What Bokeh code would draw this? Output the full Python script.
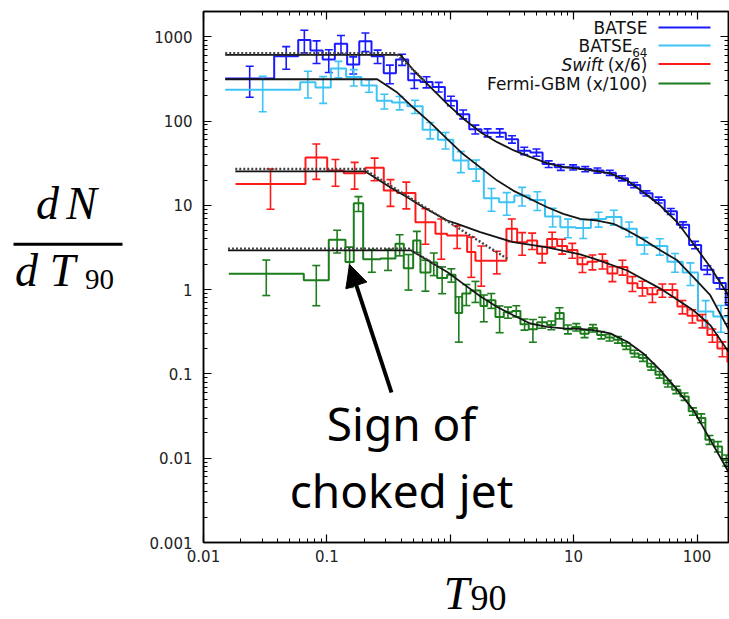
import math
from bokeh.plotting import figure
from bokeh.layouts import row, column
from bokeh.models import (FixedTicker, CustomJSTickFormatter, LogAxis, Label,
                          Arrow, NormalHead, Range1d)
from bokeh.core.properties import value
from bokeh.embed import file_html
from bokeh.resources import INLINE

# ---------------------------------------------------------------------------
# T90 distributions: bin edges (s), dN/dT90 per bin, relative 1-sigma errors
# ---------------------------------------------------------------------------
batse_edges = [0.0150, 0.0374, 0.0586, 0.0736, 0.0925, 0.116, 0.146, 0.183,
               0.230, 0.289, 0.363, 0.456, 0.573, 0.719, 0.904, 1.135, 1.426,
               1.79, 2.25, 2.82, 3.55, 4.46, 5.60, 7.03, 8.83, 11.1, 13.9,
               17.5, 22.0, 27.6, 34.7, 43.6, 54.7, 68.7, 86.3, 108, 136, 171,
               215]
batse_vals = [320, 590, 920, 690, 540, 830, 470, 890, 590, 370, 540, 305,
              292, 255, 175, 121, 80, 73, 73, 61, 44.5, 42.5, 31, 28.3, 28.3,
              27, 26, 24.4, 21, 17.5, 13.9, 11.6, 8.5, 5.9, 3.4, 1.72, 1.2,
              0.66]
batse_rel = [0.40, 0.30, 0.30, 0.30, 0.30, 0.25, 0.23, 0.25, 0.18, 0.25,
             0.15, 0.20, 0.15, 0.13, 0.13, 0.12, 0.12, 0.11, 0.11, 0.10,
             0.10, 0.10, 0.09, 0.08, 0.07, 0.07, 0.07, 0.07, 0.07, 0.07,
             0.07, 0.08, 0.08, 0.08, 0.10, 0.12, 0.15, 0.20]

batse64_edges = [0.0150, 0.0608, 0.0809, 0.1076, 0.1432, 0.1905, 0.2535,
                 0.3373, 0.4487, 0.597, 0.794, 1.057, 1.406, 1.871, 2.489,
                 3.311, 4.406, 5.861, 7.798, 10.38, 13.8, 18.37, 24.43, 32.5,
                 43.25, 57.5, 76.6, 101.9, 135.5, 180.3, 239.9]
batse64_vals = [235, 290, 250, 420, 335, 265, 174, 166, 150, 79, 60, 34, 27,
                12.2, 10.9, 13.1, 11.6, 7.4, 5.5, 5.4, 6.9, 7.3, 5.3, 3.4,
                3.3, 2.15, 1.6, 0.55, 0.48, 0.36]
batse64_rel = [0.45, 0.35, 0.35, 0.22, 0.22, 0.17, 0.20, 0.18, 0.18, 0.22,
               0.22, 0.28, 0.28, 0.30, 0.30, 0.25, 0.25, 0.25, 0.25, 0.25,
               0.20, 0.20, 0.20, 0.22, 0.22, 0.25, 0.30, 0.35, 0.35, 0.40]

swift_edges = [0.01817, 0.0671, 0.1006, 0.1371, 0.2055, 0.2892, 0.3713,
               0.5224, 0.7586, 0.9438, 1.371, 1.60, 1.991, 2.854, 3.485,
               4.201, 5.06, 6.10, 7.35, 8.86, 10.74, 12.94, 15.59, 18.79,
               22.64, 27.29, 32.89, 39.63, 47.76, 57.56, 69.36, 83.6, 100.7,
               121.4, 146.3, 176.3, 212.5]
swift_vals = [18, 37, 26, 24, 28, 15, 14, 6.3, 4.6, 4.4, 2.8, 2.2, 2.2, 5.3,
              3.66, 3.84, 2.67, 4.0, 3.3, 2.95, 2.0, 2.15, 2.2, 1.56, 1.86,
              1.19, 1.05, 0.88, 0.99, 0.99, 0.63, 0.49, 0.43, 0.29, 0.20,
              0.14]
swift_rel = [0.50, 0.45, 0.35, 0.35, 0.30, 0.35, 0.35, 0.45, 0.50, 0.30,
             0.50, 0.50, 0.30, 0.30, 0.30, 0.22, 0.22, 0.20, 0.20, 0.20,
             0.20, 0.20, 0.20, 0.20, 0.20, 0.20, 0.20, 0.20, 0.18, 0.18,
             0.18, 0.18, 0.18, 0.18, 0.20, 0.20]

fermi_edges = [0.01603, 0.06499, 0.1036, 0.1415, 0.1652, 0.1969, 0.2719,
               0.3597, 0.4201, 0.5005, 0.5734, 0.691, 0.7831, 0.9438, 1.102,
               1.249, 1.458, 1.757, 1.991, 2.325, 2.714, 3.175, 3.706, 4.326,
               5.06, 6.10, 7.12, 8.31, 9.72, 11.35, 13.26, 15.50, 18.10,
               21.13, 24.72, 28.86, 33.70, 39.41, 46.02, 53.74, 62.84, 73.37,
               85.64, 100.2, 116.9, 136.6, 159.7, 186.6]
fermi_vals = [1.55, 1.29, 3.9, 2.13, 10.6, 2.3, 2.35, 3.5, 1.8, 3.84, 1.6,
              2.1, 1.38, 1.5, 0.53, 0.9, 0.98, 0.64, 0.75, 0.475, 0.54, 0.56,
              0.39, 0.34, 0.41, 0.38, 0.53, 0.34, 0.36, 0.30, 0.35, 0.29,
              0.27, 0.255, 0.215, 0.175, 0.155, 0.122, 0.098, 0.077, 0.065,
              0.054, 0.036, 0.030, 0.0166, 0.0138, 0.0095]
fermi_rel = [0.45, 0.50, 0.30, 0.50, 0.20, 0.30, 0.28, 0.28, 0.45, 0.28,
             0.40, 0.30, 0.35, 0.18, 0.55, 0.28, 0.28, 0.35, 0.20, 0.35,
             0.15, 0.15, 0.15, 0.30, 0.15, 0.12, 0.15, 0.12, 0.10, 0.10,
             0.10, 0.10, 0.09, 0.09, 0.09, 0.09, 0.09, 0.09, 0.09, 0.09,
             0.10, 0.10, 0.10, 0.12, 0.12, 0.14, 0.15]

# model curves (solid) and plateau + power-law curves (dotted)
batse_fit_t = [0.015, 0.395, 0.506, 0.691, 0.944, 1.286, 1.757, 2.40, 3.28,
               4.49, 6.10, 8.33, 11.35, 14.4, 19.8, 27.2, 36.7, 50.4, 69.2,
               93.3, 128, 176, 182]
batse_fit_n = [610, 610, 399, 253, 160, 106, 74, 56.3, 44.9, 37.4, 31.8,
               28.5, 27.2, 25.8, 24.0, 19.7, 14.3, 9.96, 6.31, 3.51, 1.86,
               0.9, 0.8]
batse64_fit_t = [0.015, 0.256, 0.372, 0.501, 0.689, 0.946, 1.27, 1.75, 2.40,
                 3.24, 4.45, 6.11, 8.24, 11.3, 15.6, 21.0, 27.2, 36.7, 50.4,
                 69.2, 93.3, 128, 176, 182]
batse64_fit_n = [314, 314, 218, 145, 96.2, 61.2, 40.7, 28.3, 19.7, 15.0,
                 11.9, 9.5, 7.94, 6.93, 6.62, 6.05, 5.05, 3.95, 2.93, 2.23,
                 1.41, 0.86, 0.362, 0.33]
swift_fit_t = [0.0181, 0.205, 0.326, 0.448, 0.604, 0.946, 1.14, 1.75, 3.24,
               6.11, 11.3, 14.4, 27.2, 50.4, 93.3, 128, 183]
swift_fit_n = [25.3, 25.3, 16.4, 12.5, 9.5, 6.62, 6.05, 4.81, 3.66, 3.17,
               2.62, 2.35, 1.69, 1.03, 0.57, 0.38, 0.177]
fermi_fit_t = [0.0158, 0.483, 0.689, 0.946, 1.27, 1.75, 2.40, 3.24, 4.45,
               6.11, 8.24, 11.3, 14.4, 19.8, 27.2, 36.7, 50.4, 69.2, 93.3,
               128, 176, 182]
fermi_fit_n = [2.92, 2.92, 2.13, 1.62, 1.18, 0.836, 0.624, 0.498, 0.397,
               0.362, 0.347, 0.343, 0.331, 0.303, 0.241, 0.175, 0.111,
               0.0646, 0.0375, 0.0166, 0.0073, 0.0066]

batse_dot_t = [0.015, 0.36, 0.62]
batse_dot_n = [640, 640, 300]
swift_dot_t = [0.0181, 0.20, 2.9]
swift_dot_n = [27, 27, 2.33]
fermi_dot_t = [0.0158, 0.46, 0.85]
fermi_dot_n = [3.07, 3.07, 1.8]

x_major = [0.01, 0.1, 1, 10, 100]
y_major = [0.001, 0.01, 0.1, 1, 10, 100, 1000]

BLUE = "#1a1aff"
SKY = "#3ec3f5"
RED = "#ff1a1a"
GREEN = "#1d7d1d"

series = [
    ("BATSE", batse_edges, batse_vals, batse_rel, BLUE),
    ("BATSE64", batse64_edges, batse64_vals, batse64_rel, SKY),
    ("Swift", swift_edges, swift_vals, swift_rel, RED),
    ("Fermi", fermi_edges, fermi_vals, fermi_rel, GREEN),
]

# ---------------------------------------------------------------------------
# page geometry (pixels, measured from the top-left of the page)
# ---------------------------------------------------------------------------
W, H = 729, 619
LEFT_W = 145             # strip holding the dN/dT90 title
MAIN_H = 567             # main plot height; the T90 title strip sits below
FL, FR, FT, FB = 203, 728, 11, 542   # plot frame
X0, X1 = 0.01, 180
Y0, Y1 = 0.001, 2000

# the svg text anchor sits mid-way between the font's ascent and descent
# lines; these factors (in em) move an anchor down to the glyph baseline
BASE_SHIFT = {"DejaVu Sans": 0.346, "Noto Sans": 0.40,
              "Liberation Serif": 0.337}


def anchor(baseline, font, size_px):
    return baseline - BASE_SHIFT[font] * size_px


def px_t(px):
    """page x pixel -> T90 value"""
    f = (px - FL) / (FR - FL)
    return 10 ** (math.log10(X0) + f * math.log10(X1 / X0))


def py_n(py):
    """page y pixel (from top) -> dN/dT90 value"""
    f = (FB - py) / (FB - FT)
    return 10 ** (math.log10(Y0) + f * math.log10(Y1 / Y0))


p = figure(width=W - LEFT_W, height=MAIN_H, x_axis_type="log",
           y_axis_type="log", x_range=(X0, X1), y_range=(Y0, Y1),
           output_backend="svg", toolbar_location=None,
           min_border_left=FL - LEFT_W, min_border_right=W - FR,
           min_border_top=FT, min_border_bottom=MAIN_H - FB)
p.xgrid.visible = False
p.ygrid.visible = False
p.outline_line_color = "black"
p.outline_line_width = 1.5
p.background_fill_color = "white"
p.border_fill_color = "white"

x_minor = [m * 10.0 ** e for e in range(-2, 3) for m in range(2, 10)
           if m * 10.0 ** e < X1]
y_minor = [m * 10.0 ** e for e in range(-3, 4) for m in range(2, 10)
           if m * 10.0 ** e < Y1]

xfmt = CustomJSTickFormatter(code="""
    if (Math.abs(tick - 1) < 1e-9) { return ''; }
    return String(Number(tick.toPrecision(3)));
""")
yfmt = CustomJSTickFormatter(code="return String(Number(tick.toPrecision(3)));")
nofmt = CustomJSTickFormatter(code="return '';")


def style_axis(ax, ticks, minor, fmt):
    ax.ticker = FixedTicker(ticks=ticks, minor_ticks=minor)
    ax.formatter = fmt
    ax.axis_line_color = "black"
    ax.axis_line_width = 1.5
    ax.major_tick_in = 8
    ax.major_tick_out = 0
    ax.minor_tick_in = 4
    ax.minor_tick_out = 0
    ax.major_tick_line_width = 1.2
    ax.minor_tick_line_width = 1.0
    ax.major_tick_line_color = "black"
    ax.minor_tick_line_color = "black"
    ax.major_label_text_font = "DejaVu Sans"
    ax.major_label_text_font_size = "15px"
    ax.major_label_text_color = "#222222"
    ax.axis_label = None


style_axis(p.xaxis[0], x_major, x_minor, xfmt)
style_axis(p.yaxis[0], y_major, y_minor, yfmt)
p.xaxis[0].major_label_standoff = 7
p.yaxis[0].major_label_standoff = 11

top = LogAxis()
style_axis(top, x_major, x_minor, nofmt)
top.major_label_standoff = 0
p.add_layout(top, "above")
right = LogAxis()
style_axis(right, y_major, y_minor, nofmt)
right.major_label_standoff = 0
p.add_layout(right, "right")

# ---------------------------------------------------------------------------
# histograms with error bars
# ---------------------------------------------------------------------------
for name, edges, vals, rel, color in series:
    xs, ys = [], []
    for i, v in enumerate(vals):
        xs += [edges[i], edges[i + 1]]
        ys += [v, v]
    p.line(xs, ys, line_color=color, line_width=2)

    cen = [math.sqrt(edges[i] * edges[i + 1]) for i in range(len(vals))]
    hi = [v * (1 + r) for v, r in zip(vals, rel)]
    lo = [v * (1 - r) for v, r in zip(vals, rel)]
    p.segment(x0=cen, y0=lo, x1=cen, y1=hi, line_color=color, line_width=1.6)
    p.scatter(x=cen + cen, y=hi + lo, marker="dash", size=8,
              line_color=color, line_width=1.6)

# model curves
for t, n in [(batse_fit_t, batse_fit_n), (batse64_fit_t, batse64_fit_n),
             (swift_fit_t, swift_fit_n), (fermi_fit_t, fermi_fit_n)]:
    p.line(t, n, line_color="#151515", line_width=1.8)
for t, n in [(batse_dot_t, batse_dot_n), (swift_dot_t, swift_dot_n),
             (fermi_dot_t, fermi_dot_n)]:
    p.line(t, n, line_color="#444444", line_width=2.4, line_dash="2 2")

# ---------------------------------------------------------------------------
# key (text on the left, sample line on the right)
# ---------------------------------------------------------------------------
KEY_FONT = "DejaVu Sans"
key_rows = [27, 45, 63.5, 83]
key_colors = [BLUE, SKY, RED, GREEN]
p.segment(x0=[px_t(658)] * 4, y0=[py_n(r) for r in key_rows],
          x1=[px_t(710)] * 4, y1=[py_n(r) for r in key_rows],
          line_color=key_colors, line_width=2)


def key_text(px, baseline, text, size=17, style="normal"):
    p.add_layout(Label(x=px_t(px), y=py_n(anchor(baseline, KEY_FONT, size)),
                       text=text, text_font=KEY_FONT,
                       text_font_size=f"{size}px",
                       text_font_style=style, text_color="#111111",
                       text_align="right", text_baseline="alphabetic"))


key_text(647, 33, "BATSE")
key_text(632, 51, "BATSE")
key_text(647, 56, "64", size=12)
key_text(647, 70, "(x/6)")
key_text(603, 70, "Swift", style="italic")
key_text(647, 89, "Fermi-GBM (x/100)")

# ---------------------------------------------------------------------------
# annotation: arrow + caption
# ---------------------------------------------------------------------------
p.add_layout(Arrow(x_start=px_t(391), y_start=py_n(392),
                   x_end=px_t(349), y_end=py_n(264),
                   line_color="black", line_width=4,
                   end=NormalHead(size=22, fill_color="black",
                                  line_color="black", line_width=1)))
CAP_FONT = "Noto Sans"
for text, baseline in [("Sign of", 441), ("choked jet", 508)]:
    p.add_layout(Label(x=px_t(401), y=py_n(anchor(baseline, CAP_FONT, 46)),
                       text=text, text_font=CAP_FONT, text_font_size="46px",
                       text_color="black", text_align="center",
                       text_baseline="alphabetic"))

# ---------------------------------------------------------------------------
# axis titles drawn in their own strips: dN/dT90 (left), T90 (bottom)
# ---------------------------------------------------------------------------
SERIF = "Liberation Serif"


def strip(width, height, x0, y0):
    f = figure(width=width, height=height,
               x_range=Range1d(x0, x0 + width),
               y_range=Range1d(y0 + height, y0),
               x_axis_type=None, y_axis_type=None,
               output_backend="svg", toolbar_location=None,
               min_border=0, outline_line_color=None)
    f.xgrid.visible = False
    f.ygrid.visible = False
    return f


def title_glyph(f, x, baseline, text, size, style="italic"):
    f.text(x=[x], y=[anchor(baseline, SERIF, size)], text=[text],
           text_font=value(SERIF), text_font_size=value(f"{size}px"),
           text_font_style=style, text_color="black", text_align="center",
           text_baseline="alphabetic")


yt = strip(LEFT_W, MAIN_H, 0, 0)
title_glyph(yt, 47, 220, "d", 46)
title_glyph(yt, 81, 220, "N", 46)
yt.segment(x0=[13], y0=[248.5], x1=[122], y1=[248.5],
           line_color="black", line_width=3)
title_glyph(yt, 26, 292, "d", 46)
title_glyph(yt, 62, 292, "T", 46)
title_glyph(yt, 99, 296, "90", 29, style="normal")

xt = strip(W, H - MAIN_H, 0, MAIN_H)
title_glyph(xt, 456, 608.5, "T", 46)
title_glyph(xt, 488, 610, "90", 36, style="normal")

page = column(row(yt, p), xt)
open("out.html", "w").write(file_html(page, INLINE))
